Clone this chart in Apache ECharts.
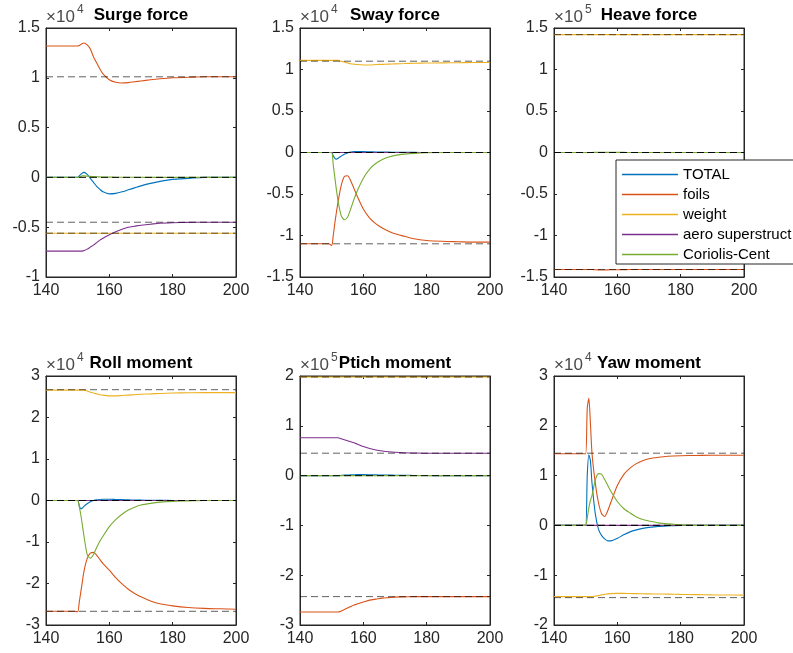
<!DOCTYPE html>
<html>
<head>
<meta charset="utf-8">
<script src="https://cdn.jsdelivr.net/npm/echarts@6/dist/echarts.min.js"></script>
<style>
html, body { margin: 0; padding: 0; background: #fff; }
#main { width: 793px; height: 653px; }
</style>
</head>
<body>
<div id="main"></div>
<script>
// time samples (s)
var t = [140, 149, 150, 150.5, 151, 151.5, 152, 153, 154, 155, 156, 157, 158, 160, 162, 164, 166, 168, 170, 173, 176, 180, 185, 190, 195, 200];

var names = ['TOTAL', 'foils', 'weight', 'aero superstruct', 'Coriolis-Cent'];
var titles = ['Surge force', 'Sway force', 'Heave force', 'Roll moment', 'Ptich moment', 'Yaw moment'];
var exponents = ['4', '4', '5', '4', '5', '4'];
var xTicks = [140, 160, 180, 200];
var yMin = [-1, -1.5, -1.5, -3, -3, -2];
var yMax = [1.5, 1.5, 1.5, 3, 2, 3];
var yStep = [0.5, 0.5, 0.5, 1, 1, 1];

// Surge force (x10^4)
var surgeTotal = [0, 0, 0, 0.015, 0.03, 0.045, 0.05, 0.03, -0.01, -0.05, -0.09, -0.12, -0.145, -0.165, -0.16, -0.145, -0.125, -0.105, -0.085, -0.06, -0.04, -0.02, -0.01, 0, 0, 0];
var surgeFoils = [1.32, 1.32, 1.32, 1.325, 1.335, 1.345, 1.35, 1.33, 1.29, 1.21, 1.15, 1.09, 1.04, 0.98, 0.955, 0.948, 0.952, 0.96, 0.968, 0.98, 0.99, 1.0, 1.005, 1.01, 1.01, 1.01];
var surgeWeight = [-0.56, -0.56, -0.56, -0.56, -0.56, -0.56, -0.56, -0.56, -0.56, -0.56, -0.56, -0.56, -0.56, -0.56, -0.56, -0.56, -0.56, -0.56, -0.56, -0.56, -0.56, -0.56, -0.56, -0.56, -0.56, -0.56];
var surgeAero = [-0.74, -0.74, -0.74, -0.74, -0.74, -0.74, -0.735, -0.72, -0.70, -0.68, -0.655, -0.63, -0.61, -0.575, -0.545, -0.52, -0.50, -0.49, -0.48, -0.47, -0.46, -0.455, -0.452, -0.45, -0.45, -0.45];
var surgeCoriolis = [0, 0, 0, 0.005, 0.01, 0.015, 0.015, 0.012, 0.01, 0.008, 0.006, 0.005, 0.004, 0.003, 0.002, 0.002, 0.001, 0.001, 0.001, 0, 0, 0, 0, 0, 0, 0];
var surgeRef = [0, 1.01, -0.56, -0.45, 0];

// Sway force (x10^4)
var swayTotal = [0, 0, 0, -0.04, -0.07, -0.08, -0.07, -0.045, -0.02, -0.005, 0.005, 0.01, 0.01, 0.01, 0.008, 0.006, 0.005, 0.004, 0.003, 0.002, 0.001, 0, 0, 0, 0, 0];
var swayFoils = [-1.1, -1.1, -1.12, -1.0, -0.85, -0.72, -0.6, -0.4, -0.29, -0.28, -0.34, -0.43, -0.52, -0.68, -0.79, -0.86, -0.91, -0.95, -0.98, -1.01, -1.04, -1.06, -1.07, -1.075, -1.08, -1.08];
var swayWeight = [1.11, 1.11, 1.11, 1.11, 1.11, 1.11, 1.11, 1.10, 1.09, 1.08, 1.07, 1.065, 1.06, 1.055, 1.055, 1.06, 1.062, 1.065, 1.068, 1.072, 1.076, 1.078, 1.08, 1.082, 1.085, 1.085];
var swayAero = [0, 0, 0, 0, 0, 0, 0, 0, 0, 0, 0, 0, 0, 0, 0, 0, 0, 0, 0, 0, 0, 0, 0, 0, 0, 0];
var swayCoriolis = [0, 0, 0, -0.15, -0.3, -0.45, -0.58, -0.76, -0.81, -0.78, -0.68, -0.57, -0.47, -0.31, -0.2, -0.13, -0.085, -0.055, -0.035, -0.02, -0.01, -0.003, 0, 0, 0, 0];
var swayRef = [0, -1.1, 1.1, 0, 0];

// Heave force (x10^5)
var heaveTotal = [0, 0, 0, 0, 0, 0, 0, 0, 0, 0, 0, 0, 0, 0, 0, 0, 0, 0, 0, 0, 0, 0, 0, 0, 0, 0];
var heaveFoils = [-1.41, -1.41, -1.41, -1.41, -1.41, -1.41, -1.41, -1.412, -1.414, -1.415, -1.415, -1.414, -1.413, -1.412, -1.411, -1.41, -1.41, -1.41, -1.41, -1.41, -1.41, -1.41, -1.41, -1.41, -1.41, -1.41];
var heaveWeight = [1.42, 1.42, 1.42, 1.42, 1.42, 1.42, 1.42, 1.42, 1.42, 1.42, 1.42, 1.42, 1.42, 1.42, 1.42, 1.42, 1.42, 1.42, 1.42, 1.42, 1.42, 1.42, 1.42, 1.42, 1.42, 1.42];
var heaveAero = [0, 0, 0, 0, 0, 0, 0, 0, 0, 0, 0, 0, 0, 0, 0, 0, 0, 0, 0, 0, 0, 0, 0, 0, 0, 0];
var heaveCoriolis = [0, 0, 0, 0, 0, 0, 0, 0.002, 0.003, 0.003, 0.003, 0.002, 0.002, 0.001, 0.001, 0, 0, 0, 0, 0, 0, 0, 0, 0, 0, 0];
var heaveRef = [0, -1.41, 1.42, 0, 0];

// Roll moment (x10^4)
var rollTotal = [0, 0, 0, -0.12, -0.2, -0.18, -0.14, -0.08, -0.03, 0, 0.015, 0.025, 0.03, 0.03, 0.025, 0.02, 0.015, 0.01, 0.008, 0.005, 0.003, 0.001, 0, 0, 0, 0];
var rollFoils = [-2.67, -2.67, -2.68, -2.45, -2.2, -1.95, -1.7, -1.4, -1.27, -1.25, -1.32, -1.42, -1.52, -1.68, -1.86, -2.01, -2.14, -2.24, -2.32, -2.42, -2.49, -2.54, -2.58, -2.6, -2.61, -2.62];
var rollWeight = [2.66, 2.66, 2.66, 2.66, 2.66, 2.66, 2.66, 2.64, 2.61, 2.59, 2.57, 2.55, 2.54, 2.52, 2.52, 2.53, 2.54, 2.55, 2.56, 2.57, 2.58, 2.59, 2.595, 2.6, 2.6, 2.6];
var rollAero = [0, 0, 0, 0, 0, 0, 0, 0, 0, 0, 0, 0, 0, 0, 0, 0, 0, 0, 0, 0, 0, 0, 0, 0, 0, 0];
var rollCoriolis = [0, 0, 0, -0.15, -0.35, -0.6, -0.86, -1.3, -1.39, -1.3, -1.13, -0.98, -0.86, -0.63, -0.46, -0.33, -0.23, -0.16, -0.11, -0.07, -0.04, -0.02, -0.01, 0, 0, 0];
var rollRef = [0, -2.67, 2.67, 0, 0];

// Pitch moment (x10^5)
var pitchTotal = [0, 0, 0, 0, 0, 0, 0, 0.005, 0.01, 0.012, 0.015, 0.018, 0.02, 0.02, 0.018, 0.015, 0.012, 0.01, 0.008, 0.005, 0.003, 0.001, 0, 0, 0, 0];
var pitchFoils = [-2.74, -2.74, -2.74, -2.74, -2.74, -2.74, -2.74, -2.72, -2.69, -2.66, -2.63, -2.6, -2.58, -2.54, -2.5, -2.48, -2.46, -2.45, -2.44, -2.435, -2.43, -2.43, -2.43, -2.43, -2.43, -2.43];
var pitchWeight = [1.98, 1.98, 1.98, 1.98, 1.98, 1.98, 1.98, 1.98, 1.98, 1.98, 1.98, 1.98, 1.98, 1.98, 1.98, 1.98, 1.98, 1.98, 1.98, 1.98, 1.98, 1.98, 1.98, 1.98, 1.98, 1.98];
var pitchAero = [0.76, 0.76, 0.76, 0.76, 0.76, 0.76, 0.76, 0.74, 0.72, 0.70, 0.68, 0.66, 0.635, 0.585, 0.545, 0.515, 0.495, 0.48, 0.47, 0.46, 0.455, 0.45, 0.45, 0.45, 0.45, 0.45];
var pitchCoriolis = [0, 0, 0, 0, 0, 0, 0, 0, 0, 0, 0, 0, 0, 0, 0, 0, 0, 0, 0, 0, 0, 0, 0, 0, 0, 0];
var pitchRef = [0, -2.43, 1.98, 0.45, 0];

// Yaw moment (x10^4)
var yawTotal = [0, 0, 0, 1.0, 1.42, 1.3, 0.85, 0.25, -0.07, -0.2, -0.27, -0.31, -0.31, -0.26, -0.19, -0.13, -0.09, -0.06, -0.04, -0.02, -0.01, 0, 0, 0, 0, 0];
var yawFoils = [1.44, 1.44, 1.44, 2.35, 2.55, 2.05, 1.45, 0.87, 0.47, 0.24, 0.18, 0.3, 0.47, 0.8, 1.02, 1.15, 1.24, 1.3, 1.34, 1.37, 1.39, 1.4, 1.405, 1.41, 1.41, 1.41];
var yawWeight = [-1.43, -1.43, -1.43, -1.43, -1.43, -1.43, -1.43, -1.42, -1.41, -1.395, -1.385, -1.375, -1.37, -1.365, -1.365, -1.368, -1.37, -1.373, -1.375, -1.378, -1.38, -1.385, -1.39, -1.395, -1.398, -1.4];
var yawAero = [0, 0, 0, 0, 0, 0, 0, 0, 0, 0, 0, 0, 0, 0, 0, 0, 0, 0, 0, 0, 0, 0, 0, 0, 0, 0];
var yawCoriolis = [0, 0, 0, 0.15, 0.35, 0.5, 0.6, 0.9, 1.04, 1.03, 0.92, 0.8, 0.68, 0.48, 0.34, 0.25, 0.17, 0.12, 0.09, 0.05, 0.03, 0.01, 0, 0, 0, 0];
var yawRef = [0, 1.45, -1.45, 0, 0];

var panels = [
  [surgeTotal, surgeFoils, surgeWeight, surgeAero, surgeCoriolis],
  [swayTotal, swayFoils, swayWeight, swayAero, swayCoriolis],
  [heaveTotal, heaveFoils, heaveWeight, heaveAero, heaveCoriolis],
  [rollTotal, rollFoils, rollWeight, rollAero, rollCoriolis],
  [pitchTotal, pitchFoils, pitchWeight, pitchAero, pitchCoriolis],
  [yawTotal, yawFoils, yawWeight, yawAero, yawCoriolis]
];
var refs = [surgeRef, swayRef, heaveRef, rollRef, pitchRef, yawRef];

var colors = ['#0072BD', '#D95319', '#EDB120', '#7E2F8E', '#77AC30'];
var font = 'Liberation Sans';
var axisColor = '#262626';
var lefts = [46, 300, 554];
var tops = [28, 376];
var gw = 190, gh = 249;

var grids = [], xAxes = [], yAxes = [], series = [], graphics = [];

for (var i = 0; i < 6; i++) {
  var col = i % 3, row = Math.floor(i / 3);
  var gl = lefts[col], gt = tops[row];
  grids.push({ left: gl, top: gt, width: gw, height: gh, show: true, borderColor: axisColor, borderWidth: 1, backgroundColor: '#fff' });

  ['bottom', 'top'].forEach(function (pos) {
    xAxes.push({
      gridIndex: i, type: 'value', position: pos, min: 140, max: 200, interval: 20,
      axisLine: { show: true, onZero: false, lineStyle: { color: axisColor } },
      axisTick: { show: true, inside: true, length: 3, lineStyle: { color: axisColor } },
      axisLabel: { show: pos === 'bottom', fontSize: 16, color: axisColor, fontFamily: font, margin: 6 },
      splitLine: { show: false }
    });
  });
  ['left', 'right'].forEach(function (pos) {
    yAxes.push({
      gridIndex: i, type: 'value', position: pos, min: yMin[i], max: yMax[i], interval: yStep[i],
      axisLine: { show: true, onZero: false, lineStyle: { color: axisColor } },
      axisTick: { show: true, inside: true, length: 3, lineStyle: { color: axisColor } },
      axisLabel: { show: pos === 'left', fontSize: 16, color: axisColor, fontFamily: font, margin: 6 },
      splitLine: { show: false }
    });
  });

  for (var k = 0; k < 5; k++) {
    var vals = panels[i][k];
    series.push({
      name: names[k], type: 'line', xAxisIndex: 2 * i, yAxisIndex: 2 * i,
      data: t.map(function (x, j) { return [x, vals[j]]; }),
      symbol: 'none', smooth: 0.25, z: 2,
      lineStyle: { width: 1.1, color: colors[k] }, itemStyle: { color: colors[k] }
    });
  }
  refs[i].forEach(function (v) {
    series.push({
      type: 'line', xAxisIndex: 2 * i, yAxisIndex: 2 * i,
      data: [[140, v], [200, v]], symbol: 'none', silent: true, z: 3,
      lineStyle: { width: 1, color: 'rgba(0,0,0,0.62)', type: [7, 4] }
    });
  });

  var ty = row === 0 ? 15 : 363;
  graphics.push({ type: 'text', x: gl + gw / 2, y: ty, z: 10,
    style: { text: titles[i], fill: '#000', font: 'bold 17px ' + font, textAlign: 'center', textVerticalAlign: 'middle' } });
  graphics.push({ type: 'text', x: gl, y: ty + 2, z: 9,
    style: { text: '\u00d710', fill: '#4a4a4a', font: '17px ' + font, textAlign: 'left', textVerticalAlign: 'middle' } });
  graphics.push({ type: 'text', x: gl + 31, y: ty - 5, z: 9,
    style: { text: exponents[i], fill: '#4a4a4a', font: '12px ' + font, textAlign: 'left', textVerticalAlign: 'middle' } });
}

var chart = echarts.init(document.getElementById('main'));
chart.setOption({
  animation: false,
  backgroundColor: '#fff',
  grid: grids,
  xAxis: xAxes,
  yAxis: yAxes,
  series: series,
  graphic: graphics,
  legend: {
    data: names, orient: 'vertical', left: 616, top: 160,
    padding: [7, 8, 2, 6], itemGap: 5, itemWidth: 56, itemHeight: 1.5,
    icon: 'rect',
    backgroundColor: '#fff', borderColor: axisColor, borderWidth: 1, borderRadius: 0,
    selectedMode: false,
    textStyle: { fontSize: 15, color: '#000', fontFamily: font }
  }
});
</script>
</body>
</html>
